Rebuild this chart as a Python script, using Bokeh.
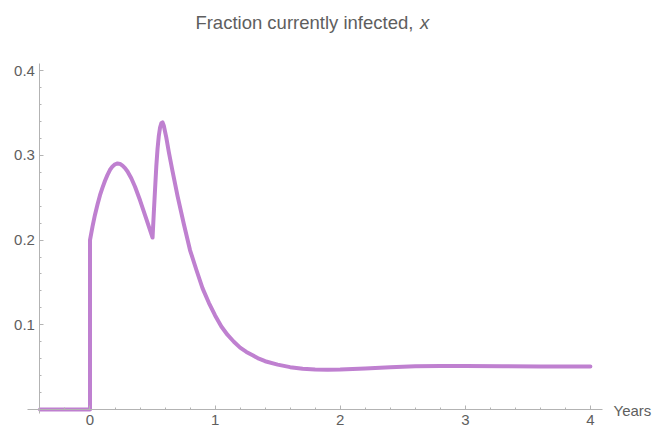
from bokeh.plotting import figure
from bokeh.models import LinearAxis, FixedTicker, Label, Range1d
from bokeh.embed import file_html
from bokeh.resources import INLINE

# ---- data ----
t_years = [-0.4, 0.0, 0.0, 0.02, 0.04, 0.06, 0.08, 0.10, 0.12, 0.14, 0.16, 0.18, 0.20, 0.22,
           0.24, 0.26, 0.28, 0.30, 0.33, 0.36, 0.40, 0.45, 0.50,
           0.51, 0.52, 0.53, 0.54, 0.55, 0.56, 0.57, 0.58, 0.59, 0.61, 0.63, 0.66, 0.70,
           0.75, 0.80, 0.85, 0.90, 0.95, 1.00, 1.05, 1.10, 1.15, 1.20, 1.25, 1.30, 1.35,
           1.40, 1.50, 1.60, 1.70, 1.80, 1.90, 2.00, 2.10, 2.20, 2.40, 2.60, 2.80, 3.00,
           3.30, 3.60, 4.00]
fraction_infected = [0.0, 0.0, 0.200, 0.216, 0.230, 0.242, 0.253, 0.262, 0.270, 0.277, 0.283,
                     0.287, 0.2895, 0.2905, 0.290, 0.288, 0.285, 0.281, 0.273, 0.263, 0.247,
                     0.225, 0.203,
                     0.232, 0.260, 0.287, 0.308, 0.323, 0.333, 0.338, 0.339, 0.335, 0.321,
                     0.304, 0.281, 0.252, 0.219, 0.188, 0.165, 0.143, 0.126, 0.111, 0.098,
                     0.088, 0.080, 0.073, 0.068, 0.064, 0.060, 0.057, 0.053, 0.050, 0.048,
                     0.0473, 0.047, 0.0472, 0.0478, 0.0485, 0.050, 0.0511, 0.0515, 0.0514,
                     0.0511, 0.0509, 0.0508]

x_major_ticks = [0, 1, 2, 3, 4]
x_minor_ticks = [-0.2, 0.2, 0.4, 0.6, 0.8, 1.2, 1.4, 1.6, 1.8, 2.2, 2.4, 2.6, 2.8,
                 3.2, 3.4, 3.6, 3.8]
y_major_ticks = [0.1, 0.2, 0.3, 0.4]
y_minor_ticks = [0.02, 0.04, 0.06, 0.08, 0.12, 0.14, 0.16, 0.18, 0.22, 0.24, 0.26, 0.28,
                 0.32, 0.34, 0.36, 0.38]

title_text = "Fraction currently infected,"
title_var = "x"
x_label = "Years"

FONT = "Liberation Sans"
AXIS_COLOR = "#b3b3b3"
TEXT_COLOR = "#5e5e5e"
LINE_COLOR = "#bf80d0"

# frame covers the whole canvas; axes are placed inside it at fixed locations
p = figure(width=654, height=428, output_backend="svg", toolbar_location=None,
           x_range=Range1d(-0.7154, 4.5124), y_range=Range1d(-0.02243, 0.48288),
           x_axis_location=None, y_axis_location=None,
           min_border_left=0, min_border_right=0, min_border_top=0, min_border_bottom=0)
p.outline_line_color = None
p.background_fill_color = "white"
p.border_fill_color = "white"
for g in p.grid:
    g.visible = False

xaxis = LinearAxis(fixed_location=0, bounds=(-0.5, 4.1),
                   ticker=FixedTicker(ticks=x_major_ticks, minor_ticks=x_minor_ticks))
yaxis = LinearAxis(fixed_location=-0.4, bounds=(-0.005, 0.408),
                   ticker=FixedTicker(ticks=y_major_ticks, minor_ticks=y_minor_ticks))
for ax in (xaxis, yaxis):
    ax.axis_line_color = AXIS_COLOR
    ax.major_tick_line_color = AXIS_COLOR
    ax.minor_tick_line_color = AXIS_COLOR
    ax.major_tick_in = 4
    ax.major_tick_out = 0
    ax.minor_tick_in = 2
    ax.minor_tick_out = 0
    ax.major_label_text_font = FONT
    ax.major_label_text_font_size = "15px"
    ax.major_label_text_color = TEXT_COLOR
xaxis.major_label_standoff = 5
yaxis.major_label_standoff = 5
p.add_layout(xaxis, "below")
p.add_layout(yaxis, "left")

p.line(t_years, fraction_infected, line_width=4, line_color=LINE_COLOR,
       line_join="round", line_cap="round")

p.add_layout(Label(x=2.585, y=0.457, text=title_text, text_align="right",
                   text_baseline="alphabetic", text_font=FONT, text_font_size="18.5px",
                   text_color=TEXT_COLOR))
p.add_layout(Label(x=2.638, y=0.457, text=title_var, text_align="left",
                   text_baseline="alphabetic", text_font=FONT, text_font_size="18.5px",
                   text_font_style="italic", text_color=TEXT_COLOR))
p.add_layout(Label(x=4.185, y=-0.0011, text=x_label, text_align="left",
                   text_baseline="alphabetic", text_font=FONT, text_font_size="15px",
                   text_color=TEXT_COLOR))

open("out.html", "w").write(file_html(p, INLINE))
